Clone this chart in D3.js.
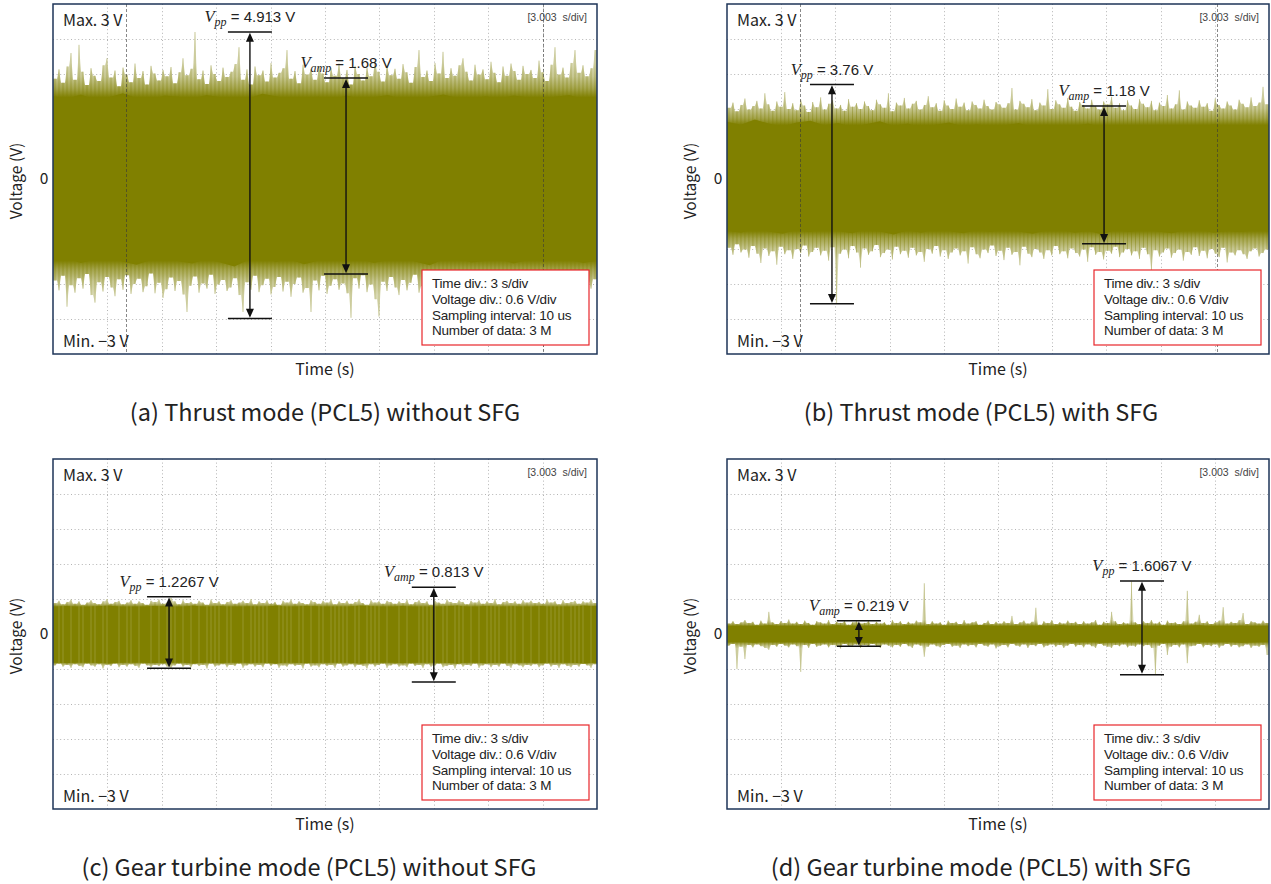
<!DOCTYPE html>
<html>
<head>
<meta charset="utf-8">
<script src="https://cdn.jsdelivr.net/npm/d3@7"></script>
<style>
  body { margin: 0; background: #fff; }
  svg { display: block; }
</style>
</head>
<body>
<svg id="fig" width="1271" height="884"></svg>
<script>
// ---------------- data (volts, 30 s record, 0.6 V/div) ----------------
const captions = [
  "(a) Thrust mode (PCL5) without SFG",
  "(b) Thrust mode (PCL5) with SFG",
  "(c) Gear turbine mode (PCL5) without SFG",
  "(d) Gear turbine mode (PCL5) with SFG"
];
const infoLines = ["Time div.: 3 s/div", "Voltage div.: 0.6 V/div", "Sampling interval: 10 us", "Number of data: 3 M"];
const timeDivText = "[3.003  s/div]";
const maxLabel = "Max. 3 V";
const minLabel = "Min. \u22123 V";
const yTickLabel = "0";
const yTitle = "Voltage (V)";
const xTitle = "Time (s)";

// measured peak-to-peak and amplitude values
const vppValues  = [4.913, 3.76, 1.2267, 1.6067];
const vppTop     = [2.52, 1.62, 0.64, 0.91];
const vppTime    = [10.86, 5.81, 6.4, 22.97];
const vampValues = [1.68, 1.18, 0.813, 0.219];
const vampCenter = [0.05, 0.07, -0.01, 0.01];
const vampTime   = [16.16, 20.87, 21.0, 7.3];
const cursorTimes = [[4.03, 27.0], [4.04, 27.1], [], []];

// dense band edges (40 samples across the record)
const coreHiA = [1.42,1.38,1.45,1.36,1.40,1.47,1.39,1.35,1.43,1.41,1.37,1.44,1.40,1.33,1.38,1.46,1.42,1.36,1.39,1.41,1.35,1.43,1.38,1.40,1.44,1.37,1.34,1.41,1.45,1.39,1.36,1.42,1.38,1.43,1.40,1.35,1.41,1.44,1.37,1.40];
const coreLoA = [-1.40,-1.36,-1.44,-1.38,-1.33,-1.42,-1.47,-1.39,-1.35,-1.41,-1.45,-1.37,-1.43,-1.50,-1.39,-1.36,-1.42,-1.38,-1.46,-1.40,-1.34,-1.41,-1.37,-1.44,-1.39,-1.35,-1.42,-1.48,-1.38,-1.36,-1.43,-1.40,-1.37,-1.45,-1.39,-1.33,-1.41,-1.38,-1.44,-1.40];
const coreHiB = [0.98,0.93,1.02,0.95,0.90,0.97,1.00,0.92,0.96,0.89,0.94,0.99,0.91,0.95,0.88,0.93,0.97,0.90,0.94,0.87,0.92,0.96,0.89,0.93,0.86,0.91,0.95,0.88,0.92,0.90,0.86,0.93,0.89,0.91,0.87,0.94,0.90,0.92,0.88,0.93];
const coreLoB = [-0.88,-0.92,-0.85,-0.90,-0.94,-0.87,-0.91,-0.84,-0.89,-0.93,-0.86,-0.90,-0.95,-0.88,-0.92,-0.85,-0.89,-0.93,-0.87,-0.91,-0.84,-0.90,-0.94,-0.88,-0.86,-0.92,-0.89,-0.95,-0.87,-0.91,-0.85,-0.90,-0.93,-0.88,-0.86,-0.92,-0.89,-0.91,-0.87,-0.90];
const coreHiC = [0.46,0.48,0.45,0.47,0.49,0.46,0.44,0.48,0.47,0.45,0.49,0.46,0.48,0.44,0.47,0.46,0.49,0.45,0.48,0.47,0.44,0.46,0.49,0.47,0.45,0.48,0.46,0.44,0.47,0.49,0.45,0.48,0.46,0.47,0.45,0.48,0.44,0.46,0.49,0.47];
const coreLoC = [-0.48,-0.50,-0.47,-0.49,-0.51,-0.48,-0.46,-0.50,-0.49,-0.47,-0.51,-0.48,-0.50,-0.46,-0.49,-0.48,-0.51,-0.47,-0.50,-0.49,-0.46,-0.48,-0.51,-0.49,-0.47,-0.50,-0.48,-0.46,-0.49,-0.51,-0.47,-0.50,-0.48,-0.49,-0.47,-0.50,-0.46,-0.48,-0.51,-0.49];
const coreHiD = [0.13,0.14,0.12,0.15,0.13,0.12,0.14,0.13,0.15,0.12,0.14,0.13,0.12,0.15,0.13,0.14,0.12,0.13,0.15,0.14,0.12,0.13,0.14,0.12,0.15,0.13,0.14,0.12,0.13,0.15,0.14,0.12,0.13,0.14,0.15,0.12,0.13,0.14,0.12,0.13];
const coreLoD = [-0.14,-0.13,-0.15,-0.12,-0.14,-0.13,-0.15,-0.14,-0.12,-0.13,-0.15,-0.14,-0.13,-0.12,-0.14,-0.15,-0.13,-0.14,-0.12,-0.13,-0.15,-0.14,-0.13,-0.15,-0.12,-0.14,-0.13,-0.15,-0.14,-0.12,-0.13,-0.14,-0.15,-0.13,-0.12,-0.14,-0.13,-0.15,-0.14,-0.13];

// per-bucket extremes (136 buckets across the record)
const peakHiA = [
  1.72,1.88,1.65,1.93,2.16,1.70,2.30,1.84,1.61,1.90,1.77,1.68,1.95,2.07,1.74,1.86,1.59,
  1.91,1.79,1.66,1.98,1.73,1.85,1.62,1.94,1.81,1.69,1.87,1.76,1.92,1.64,1.83,2.07,1.78,
  1.89,2.52,1.71,1.86,1.63,1.95,1.80,1.68,1.91,1.75,1.84,1.97,2.26,1.70,1.88,1.62,1.93,
  1.78,1.86,1.67,1.99,1.74,1.82,1.90,2.21,1.72,1.85,1.64,1.96,1.79,1.88,1.70,1.93,1.81,
  1.66,1.90,1.77,1.98,1.73,1.87,1.62,1.94,1.80,1.69,1.91,1.76,2.02,1.84,1.67,1.95,1.78,
  1.89,1.72,1.97,1.83,1.65,1.92,2.21,1.75,1.86,1.68,1.99,1.81,2.18,1.73,1.90,1.77,1.95,
  2.07,1.84,1.69,1.96,1.79,1.88,1.71,2.01,1.82,1.66,1.93,1.77,1.98,1.85,1.70,1.94,1.80,
  1.87,1.73,2.03,1.83,1.68,1.96,2.26,1.79,1.91,1.74,1.99,2.21,1.82,1.95,1.76,1.90,2.21];
const peakLoA = [
  -1.74,-1.91,-1.66,-2.19,-1.82,-1.95,-1.70,-1.88,-1.63,-1.99,-2.12,-1.77,-1.93,-1.68,-1.86,-2.01,-1.72,
  -1.90,-1.65,-1.97,-1.80,-1.71,-1.94,-1.84,-1.62,-1.96,-1.78,-2.04,-1.89,-1.69,-1.92,-1.75,-1.98,-2.28,
  -1.83,-1.67,-1.95,-1.79,-1.88,-1.64,-1.97,-1.81,-1.73,-1.92,-1.86,-1.70,-1.99,-2.28,-1.77,-1.90,-1.66,
  -1.94,-1.82,-1.71,-1.98,-1.85,-1.68,-1.93,-1.76,-2.02,-1.80,-1.69,-1.95,-1.87,-2.28,-1.74,-1.91,-1.66,
  -1.97,-1.83,-1.72,-1.90,-1.79,-1.96,-2.38,-1.70,-1.88,-1.65,-1.94,-1.81,-2.06,-2.36,-1.76,-1.92,-1.68,
  -1.86,-1.99,-1.73,-1.91,-1.78,-1.64,-1.95,-1.84,-1.70,-1.97,-1.82,-1.69,-1.93,-1.77,-2.03,-1.86,-1.72,
  -1.94,-1.80,-1.67,-1.98,-1.85,-1.74,-1.92,-1.79,-1.66,-1.96,-1.83,-2.05,-1.71,-1.89,-1.76,-1.93,-1.68,
  -1.91,-1.78,-1.99,-1.84,-1.70,-1.95,-1.81,-1.73,-1.97,-1.86,-1.69,-1.92,-1.80,-2.01,-1.75,-1.88,-1.72];
const peakHiB = [
  1.22,1.31,1.16,1.27,1.38,1.19,1.25,1.34,1.21,1.47,1.28,1.17,1.33,1.24,1.49,1.20,1.30,
  1.18,1.36,1.26,1.15,1.32,1.23,1.40,1.19,1.29,1.35,1.21,1.27,1.17,1.37,1.24,1.30,1.20,
  1.33,1.25,1.18,1.36,1.28,1.22,1.47,1.16,1.31,1.26,1.39,1.21,1.29,1.34,1.19,1.27,1.42,
  1.23,1.30,1.17,1.35,1.26,1.20,1.38,1.24,1.31,1.18,1.33,1.27,1.21,1.36,1.25,1.19,1.32,
  1.28,1.22,1.30,1.56,1.19,1.34,1.29,1.23,1.37,1.18,1.31,1.26,1.54,1.20,1.35,1.28,1.22,
  1.39,1.24,1.17,1.32,1.27,1.21,1.36,1.25,1.19,1.33,1.28,1.41,1.22,1.30,1.18,1.35,1.26,
  1.20,1.37,1.29,1.23,1.34,1.18,1.31,1.25,1.44,1.21,1.28,1.52,1.19,1.33,1.26,1.22,1.35,
  1.24,1.30,1.17,1.38,1.27,1.21,1.33,1.26,1.19,1.36,1.29,1.23,1.40,1.25,1.31,1.58,1.28];
const peakLoB = [
  -1.18,-1.30,-1.12,-1.26,-1.21,-1.35,-1.15,-1.28,-1.44,-1.19,-1.32,-1.24,-1.47,-1.16,-1.29,-1.22,-1.37,
  -1.20,-1.27,-1.14,-1.33,-1.25,-1.18,-1.31,-1.23,-1.40,-1.17,-2.14,-1.28,-1.21,-1.36,-1.15,-1.26,-1.52,
  -1.19,-1.30,-1.24,-1.13,-1.34,-1.27,-1.21,-1.38,-1.16,-1.29,-1.23,-1.35,-1.18,-1.31,-1.25,-1.42,-1.20,
  -1.28,-1.15,-1.33,-1.22,-1.37,-1.26,-1.19,-1.31,-1.24,-1.45,-1.17,-1.29,-1.36,-1.21,-1.27,-1.14,-1.32,
  -1.23,-1.39,-1.18,-1.30,-1.25,-1.48,-1.16,-1.28,-1.34,-1.20,-1.26,-1.37,-1.22,-1.31,-1.15,-1.29,-1.24,
  -1.36,-1.19,-1.27,-1.33,-1.21,-1.42,-1.17,-1.30,-1.25,-1.38,-1.23,-1.28,-1.16,-1.34,-1.26,-1.20,-1.31,
  -1.24,-1.37,-1.18,-1.29,-1.58,-1.22,-1.33,-1.26,-1.19,-1.35,-1.27,-1.21,-1.40,-1.25,-1.30,-1.17,-1.32,
  -1.23,-1.36,-1.20,-1.28,-1.34,-1.18,-1.43,-1.26,-1.31,-1.22,-1.29,-1.37,-1.24,-1.19,-1.33,-1.27,-1.21];
const peakHiC = [
  0.53,0.57,0.51,0.55,0.59,0.52,0.56,0.50,0.54,0.58,0.53,0.51,0.56,0.60,0.52,0.55,0.57,
  0.51,0.54,0.58,0.52,0.56,0.53,0.50,0.57,0.55,0.59,0.52,0.54,0.62,0.56,0.51,0.58,0.53,
  0.55,0.52,0.57,0.54,0.50,0.59,0.53,0.56,0.51,0.55,0.58,0.52,0.54,0.57,0.53,0.60,0.51,
  0.56,0.53,0.58,0.52,0.55,0.50,0.57,0.54,0.59,0.52,0.56,0.53,0.51,0.58,0.55,0.52,0.57,
  0.54,0.59,0.51,0.56,0.53,0.57,0.52,0.55,0.60,0.53,0.50,0.58,0.54,0.56,0.52,0.57,0.55,
  0.52,0.56,0.53,0.59,0.51,0.55,0.58,0.53,0.56,0.50,0.57,0.54,0.52,0.59,0.55,0.53,0.58,
  0.55,0.51,0.57,0.54,0.58,0.52,0.56,0.53,0.60,0.51,0.55,0.57,0.53,0.56,0.52,0.58,0.54,
  0.57,0.53,0.55,0.52,0.59,0.54,0.56,0.51,0.58,0.53,0.55,0.57,0.52,0.56,0.54,0.59,0.53];
const peakLoC = [
  -0.54,-0.51,-0.56,-0.53,-0.58,-0.52,-0.55,-0.57,-0.51,-0.54,-0.56,-0.52,-0.59,-0.53,-0.55,-0.51,-0.57,
  -0.53,-0.56,-0.52,-0.55,-0.58,-0.51,-0.54,-0.57,-0.53,-0.55,-0.52,-0.56,-0.58,-0.54,-0.51,-0.56,-0.53,
  -0.57,-0.52,-0.55,-0.53,-0.59,-0.51,-0.56,-0.54,-0.52,-0.57,-0.53,-0.55,-0.51,-0.58,-0.54,-0.52,-0.56,
  -0.53,-0.57,-0.51,-0.55,-0.52,-0.58,-0.54,-0.56,-0.52,-0.55,-0.53,-0.59,-0.51,-0.56,-0.54,-0.57,-0.52,
  -0.55,-0.53,-0.58,-0.51,-0.56,-0.54,-0.52,-0.57,-0.53,-0.55,-0.59,-0.52,-0.56,-0.53,-0.51,-0.58,-0.54,
  -0.52,-0.56,-0.54,-0.57,-0.51,-0.55,-0.53,-0.58,-0.52,-0.56,-0.54,-0.51,-0.57,-0.55,-0.53,-0.59,-0.52,
  -0.56,-0.53,-0.55,-0.51,-0.58,-0.54,-0.52,-0.57,-0.53,-0.56,-0.51,-0.55,-0.58,-0.52,-0.54,-0.57,-0.53,
  -0.55,-0.52,-0.57,-0.54,-0.51,-0.56,-0.53,-0.58,-0.52,-0.55,-0.57,-0.53,-0.56,-0.51,-0.54,-0.58,-0.52];
const peakHiD = [
  0.18,0.22,0.17,0.20,0.24,0.19,0.21,0.16,0.23,0.18,0.38,0.20,0.17,0.22,0.19,0.25,0.18,
  0.21,0.17,0.23,0.19,0.16,0.22,0.20,0.18,0.24,0.17,0.21,0.19,0.23,0.16,0.20,0.22,0.18,
  0.19,0.23,0.17,0.21,0.18,0.20,0.16,0.24,0.19,0.22,0.17,0.21,0.18,0.23,0.20,0.87,0.17,
  0.22,0.18,0.20,0.16,0.23,0.19,0.21,0.17,0.24,0.18,0.20,0.22,0.16,0.19,0.23,0.17,0.21,
  0.18,0.22,0.19,0.31,0.17,0.20,0.23,0.18,0.21,0.45,0.16,0.22,0.19,0.24,0.17,0.20,0.18,
  0.23,0.19,0.21,0.17,0.22,0.18,0.20,0.24,0.16,0.21,0.19,0.38,0.22,0.17,0.20,0.18,0.90,
  0.20,0.17,0.22,0.19,0.24,0.18,0.21,0.16,0.23,0.19,0.20,0.17,0.22,0.74,0.18,0.21,0.33,
  0.19,0.22,0.17,0.20,0.23,0.46,0.18,0.21,0.19,0.24,0.36,0.17,0.22,0.20,0.18,0.23,0.19];
const peakLoD = [
  -0.20,-0.17,-0.60,-0.22,-0.43,-0.19,-0.23,-0.18,-0.21,-0.24,-0.27,-0.19,-0.22,-0.17,-0.20,-0.23,-0.18,
  -0.21,-0.65,-0.19,-0.24,-0.17,-0.22,-0.20,-0.18,-0.23,-0.19,-0.21,-0.25,-0.17,-0.22,-0.20,-0.18,-0.24,
  -0.19,-0.22,-0.17,-0.21,-0.24,-0.18,-0.20,-0.23,-0.19,-0.22,-0.17,-0.21,-0.24,-0.18,-0.20,-0.39,-0.22,
  -0.18,-0.21,-0.23,-0.19,-0.17,-0.22,-0.20,-0.24,-0.18,-0.21,-0.19,-0.23,-0.17,-0.20,-0.22,-0.18,-0.25,
  -0.21,-0.19,-0.23,-0.17,-0.20,-0.22,-0.18,-0.24,-0.19,-0.21,-0.17,-0.23,-0.20,-0.18,-0.22,-0.19,-0.24,
  -0.20,-0.17,-0.22,-0.19,-0.23,-0.18,-0.21,-0.24,-0.17,-0.20,-0.22,-0.24,-0.19,-0.21,-0.18,-0.23,-0.20,
  -0.22,-0.18,-0.21,-0.19,-0.24,-0.70,-0.20,-0.17,-0.36,-0.22,-0.19,-0.23,-0.18,-0.50,-0.21,-0.20,-0.17,
  -0.23,-0.19,-0.21,-0.18,-0.24,-0.20,-0.17,-0.22,-0.19,-0.23,-0.21,-0.18,-0.24,-0.20,-0.22,-0.19,-0.36];

// ---------------- layout ----------------
const panels = [
  { core: [coreHiA, coreLoA], peak: [peakHiA, peakLoA], box: { x0: 53,  x1: 597,  y0: 4,   y1: 354 }, capX: 325, streak: null },
  { core: [coreHiB, coreLoB], peak: [peakHiB, peakLoB], box: { x0: 727, x1: 1269, y0: 4,   y1: 354 }, capX: 981, streak: null },
  { core: [coreHiC, coreLoC], peak: [peakHiC, peakLoC], box: { x0: 53,  x1: 597,  y0: 459, y1: 809 }, capX: 309, streak: 0.56 },
  { core: [coreHiD, coreLoD], peak: [peakHiD, peakLoD], box: { x0: 727, x1: 1269, y0: 459, y1: 809 }, capX: 981, streak: null }
];

const OLIVE = "#808000";
const uiFont = "'Noto Sans CJK KR', 'Noto Sans', sans-serif";
const numFont = "'Liberation Sans', Arial, sans-serif";
const serifFont = "'Liberation Serif', 'Times New Roman', serif";

const svg = d3.select("#fig");
const defs = svg.append("defs");

panels.forEach((p, k) => {
  const b = p.box;
  const x = d3.scaleLinear().domain([0, 30]).range([b.x0, b.x1]);
  const y = d3.scaleLinear().domain([-3, 3]).range([b.y1, b.y0]);
  const g = svg.append("g");

  defs.append("clipPath").attr("id", "clip" + k)
    .append("rect").attr("x", b.x0).attr("y", b.y0)
    .attr("width", b.x1 - b.x0).attr("height", b.y1 - b.y0);

  // dotted division grid
  const grid = g.append("g").attr("stroke", "#b4b4b4").attr("stroke-width", 1)
    .attr("stroke-dasharray", "1,2.6").attr("fill", "none");
  d3.range(1, 10).forEach(j => {
    const xv = Math.round(x(j * 3)) + 0.5;
    grid.append("line").attr("x1", xv).attr("x2", xv).attr("y1", b.y0).attr("y2", b.y1);
  });
  d3.range(1, 10).forEach(j => {
    const yv = Math.round(y(-3 + j * 0.6)) + 0.5;
    grid.append("line").attr("x1", b.x0).attr("x2", b.x1).attr("y1", yv).attr("y2", yv);
  });

  // colour ramps for the excursions beyond the dense band
  const [hi, lo] = p.core;
  const [pkHi, pkLo] = p.peak;
  const mHi = d3.mean(hi), mLo = d3.mean(lo);
  const mPkHi = d3.mean(pkHi), mPkLo = d3.mean(pkLo);
  const ramp = (id, v0, v1, stops) => {
    const lg = defs.append("linearGradient").attr("id", id)
      .attr("gradientUnits", "userSpaceOnUse")
      .attr("x1", 0).attr("x2", 0).attr("y1", y(v0)).attr("y2", y(v1));
    stops.forEach(([o, c]) => lg.append("stop").attr("offset", o).attr("stop-color", c));
  };
  const hazeStops = [[0, OLIVE], [0.25, "#a3a34a"], [0.6, "#c6c690"], [1, "#d8d8b2"]];
  const lineStops = [[0, OLIVE], [0.45, "#999938"], [1, "#b9b97a"]];
  ramp("hu" + k, mHi, mHi + 1.3 * (mPkHi - mHi), hazeStops);
  ramp("hd" + k, mLo, mLo + 1.3 * (mPkLo - mLo), hazeStops);
  ramp("lu" + k, mHi, mHi + 1.3 * (mPkHi - mHi), lineStops);
  ramp("ld" + k, mLo, mLo + 1.3 * (mPkLo - mLo), lineStops);

  const sig = g.append("g").attr("clip-path", `url(#clip${k})`);
  const n = pkHi.length;
  const tOf = i => (i + 0.5) * 30 / n;

  // min/max envelope of each bucket, teeth meeting at the lower neighbour
  const envelope = (arr, pick) => {
    const pts = [[0, arr[0]]];
    arr.forEach((v, i) => {
      pts.push([tOf(i), v]);
      if (i < n - 1) pts.push([(i + 1) * 30 / n, pick(v, arr[i + 1])]);
    });
    pts.push([30, arr[n - 1]]);
    return pts;
  };
  const envArea = d3.area().x(d => x(d[0])).y0(y(0)).y1(d => y(d[1]));
  sig.append("path").datum(envelope(pkHi, Math.min)).attr("d", envArea).attr("fill", `url(#hu${k})`);
  sig.append("path").datum(envelope(pkLo, Math.max)).attr("d", envArea).attr("fill", `url(#hd${k})`);

  // individual excursion strokes
  sig.append("g").attr("fill", `url(#lu${k})`).attr("opacity", 0.75)
    .selectAll("rect").data(pkHi).join("rect")
    .attr("x", (d, i) => x(tOf(i)) - 0.5).attr("width", 1)
    .attr("y", d => y(d)).attr("height", d => y(0) - y(d));
  sig.append("g").attr("fill", `url(#ld${k})`).attr("opacity", 0.75)
    .selectAll("rect").data(pkLo).join("rect")
    .attr("x", (d, i) => x(tOf(i)) - 0.5).attr("width", 1)
    .attr("y", y(0)).attr("height", d => y(d) - y(0));

  // dense band
  const m = hi.length;
  const band = d3.area()
    .x((d, i) => x(i * 30 / (m - 1)))
    .y0((d, i) => y(lo[i]))
    .y1(d => y(d));
  sig.append("path").datum(hi).attr("d", band).attr("fill", OLIVE);

  // full-swing buckets show as pale streaks through a narrow band
  if (p.streak !== null) {
    const idx = d3.range(n).filter(i => pkHi[i] >= p.streak || pkLo[i] <= -p.streak);
    sig.append("g").attr("stroke", "#d2d2a0").attr("stroke-width", 1).attr("opacity", 0.28)
      .selectAll("line").data(idx).join("line")
      .attr("x1", i => x(tOf(i))).attr("x2", i => x(tOf(i)))
      .attr("y1", i => y(pkHi[i])).attr("y2", i => y(pkLo[i]));
  }

  // cursor markers
  cursorTimes[k].forEach(t => {
    const xv = Math.round(x(t)) + 0.5;
    sig.append("line").attr("x1", xv).attr("x2", xv).attr("y1", b.y0).attr("y2", b.y1)
      .attr("stroke", "#3a3a3a").attr("stroke-width", 1).attr("stroke-dasharray", "3,2")
      .attr("opacity", 0.6);
  });

  // measurement arrows
  const drawArrow = (t, vTop, vBot, sub, value) => {
    const xa = x(t), ya = y(vTop), yb = y(vBot);
    const a = g.append("g");
    a.selectAll("line.tick").data([ya, yb]).join("line")
      .attr("x1", xa - 22).attr("x2", xa + 22).attr("y1", d => d).attr("y2", d => d)
      .attr("stroke", "#111").attr("stroke-width", 1.5);
    const head = Math.min(9, (yb - ya) / 3);
    a.append("line").attr("x1", xa).attr("x2", xa).attr("y1", ya + head).attr("y2", yb - head)
      .attr("stroke", "#111").attr("stroke-width", 1.4);
    a.append("path")
      .attr("d", `M${xa},${ya + 0.8}L${xa - 4},${ya + head + 0.8}L${xa + 4},${ya + head + 0.8}Z` +
                 `M${xa},${yb - 0.8}L${xa - 4},${yb - head - 0.8}L${xa + 4},${yb - head - 0.8}Z`)
      .attr("fill", "#111");
    const tx = a.append("text").attr("x", xa).attr("y", ya - 10)
      .attr("text-anchor", "middle").attr("fill", "#222");
    tx.append("tspan").text("V").attr("font-family", serifFont).attr("font-style", "italic")
      .attr("font-size", 16.5);
    tx.append("tspan").text(sub).attr("font-family", serifFont).attr("font-style", "italic")
      .attr("font-size", 12).attr("dy", 4);
    tx.append("tspan").text(" = " + value + " V").attr("font-family", numFont)
      .attr("font-size", 15).attr("dy", -4);
  };
  drawArrow(vppTime[k], vppTop[k], vppTop[k] - vppValues[k], "pp", vppValues[k]);
  drawArrow(vampTime[k], vampCenter[k] + vampValues[k], vampCenter[k] - vampValues[k], "amp", vampValues[k]);

  // settings box
  const bw = 167, bh = 75;
  const bx = b.x1 - 8 - bw, by = b.y1 - 9 - bh;
  g.append("rect").attr("x", bx).attr("y", by).attr("width", bw).attr("height", bh)
    .attr("fill", "#fff").attr("stroke", "#e8262a").attr("stroke-width", 1.2);
  g.append("g").selectAll("text").data(infoLines).join("text")
    .attr("x", bx + 10).attr("y", (d, i) => by + 18 + i * 15.8)
    .attr("font-family", numFont).attr("font-size", 13.5).attr("letter-spacing", -0.2)
    .attr("fill", "#222").text(d => d);

  // frame
  g.append("rect").attr("x", b.x0).attr("y", b.y0)
    .attr("width", b.x1 - b.x0).attr("height", b.y1 - b.y0)
    .attr("fill", "none").attr("stroke", "#1e3558").attr("stroke-width", 1.5);

  // in-plot texts
  g.append("text").attr("x", b.x0 + 10).attr("y", b.y0 + 22)
    .attr("font-family", uiFont).attr("font-size", 16).attr("fill", "#222").text(maxLabel);
  g.append("text").attr("x", b.x0 + 10).attr("y", b.y1 - 7)
    .attr("font-family", uiFont).attr("font-size", 16).attr("fill", "#222").text(minLabel);
  g.append("text").attr("x", b.x1 - 10).attr("y", b.y0 + 17).attr("text-anchor", "end")
    .attr("font-family", numFont).attr("font-size", 10.5).attr("fill", "#444")
    .style("white-space", "pre").text(timeDivText);

  // axis texts
  g.append("text").attr("x", b.x0 - 9).attr("y", y(0) + 5).attr("text-anchor", "middle")
    .attr("font-family", uiFont).attr("font-size", 15.5).attr("fill", "#222").text(yTickLabel);
  g.append("text").attr("transform", `translate(${b.x0 - 31},${y(0) + 2}) rotate(-90)`)
    .attr("text-anchor", "middle").attr("font-family", uiFont).attr("font-size", 15.5)
    .attr("fill", "#222").text(yTitle);
  g.append("text").attr("x", (b.x0 + b.x1) / 2).attr("y", b.y1 + 21).attr("text-anchor", "middle")
    .attr("font-family", uiFont).attr("font-size", 16).attr("fill", "#222").text(xTitle);
  g.append("text").attr("x", p.capX).attr("y", b.y1 + 67).attr("text-anchor", "middle")
    .attr("font-family", uiFont).attr("font-size", 23.5).attr("fill", "#222").text(captions[k]);
});
</script>
</body>
</html>
